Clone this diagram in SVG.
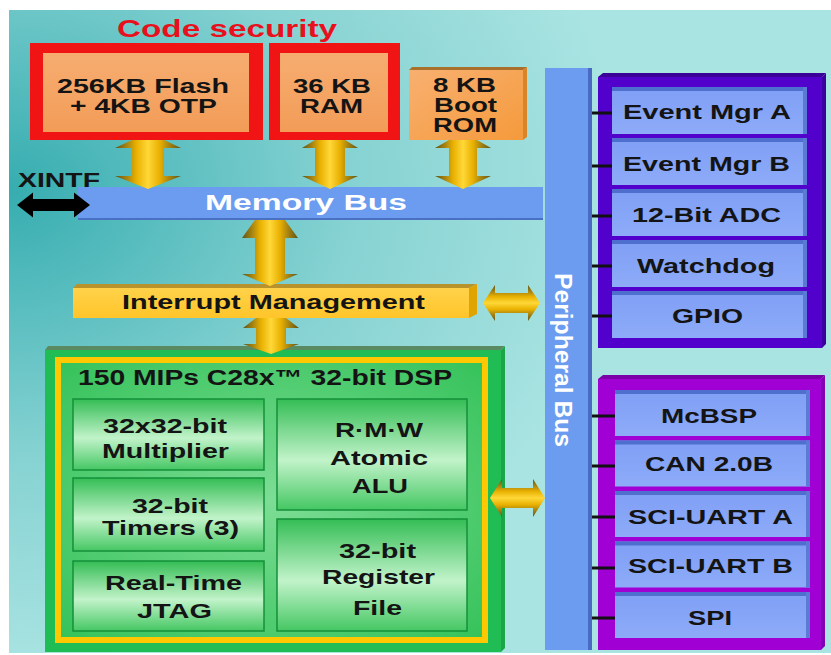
<svg xmlns="http://www.w3.org/2000/svg" width="831" height="655" viewBox="0 0 831 655">
<defs>
<radialGradient id="bg" cx="0" cy="0.28" r="0.75">
<stop offset="0" stop-color="#36adb0"/>
<stop offset="0.55" stop-color="#86d2d2"/>
<stop offset="1" stop-color="#a9e4e2"/>
</radialGradient>
<linearGradient id="orange" x1="0" y1="0" x2="0" y2="1">
<stop offset="0" stop-color="#f6ad70"/>
<stop offset="1" stop-color="#f39c58"/>
</linearGradient>
<linearGradient id="boot" x1="0" y1="0" x2="1" y2="1">
<stop offset="0" stop-color="#f8b070"/>
<stop offset="1" stop-color="#f59a3c"/>
</linearGradient>
<linearGradient id="goldV" x1="0" y1="0" x2="1" y2="0">
<stop offset="0" stop-color="#5e5418"/>
<stop offset="0.2" stop-color="#b08a10"/>
<stop offset="0.32" stop-color="#e8b000"/>
<stop offset="0.5" stop-color="#ffd838"/>
<stop offset="0.68" stop-color="#e8b000"/>
<stop offset="0.8" stop-color="#b08a10"/>
<stop offset="1" stop-color="#5e5418"/>
</linearGradient>
<linearGradient id="goldH" x1="0" y1="0" x2="0" y2="1">
<stop offset="0" stop-color="#5e5418"/>
<stop offset="0.2" stop-color="#b08a10"/>
<stop offset="0.32" stop-color="#e8b000"/>
<stop offset="0.5" stop-color="#ffd838"/>
<stop offset="0.68" stop-color="#e8b000"/>
<stop offset="0.8" stop-color="#b08a10"/>
<stop offset="1" stop-color="#5e5418"/>
</linearGradient>
<linearGradient id="intf" x1="0" y1="0" x2="0" y2="1">
<stop offset="0" stop-color="#ffd24a"/>
<stop offset="1" stop-color="#ffc52a"/>
</linearGradient>
<linearGradient id="sub" x1="0" y1="0" x2="0" y2="1">
<stop offset="0" stop-color="#34bd55"/>
<stop offset="0.55" stop-color="#c2f3ca"/>
<stop offset="1" stop-color="#45c763"/>
</linearGradient>
<radialGradient id="field" cx="0.5" cy="0.5" r="0.7">
<stop offset="0" stop-color="#7ddd95"/>
<stop offset="1" stop-color="#35c25a"/>
</radialGradient>
<linearGradient id="item" x1="0" y1="0" x2="0" y2="1">
<stop offset="0" stop-color="#7f9ff6"/>
<stop offset="1" stop-color="#8eabf8"/>
</linearGradient>
</defs>
<style>
text { font-family: "Liberation Sans", Arial, sans-serif; font-weight: bold; text-anchor: middle; fill: #141414; }
.t21 { font-size: 21px; }
.t20 { font-size: 20px; }
.wh { fill: #ffffff; }
.red { fill: #f01414; }
.sb { fill: url(#sub); stroke: #15903a; stroke-width: 1.5; }
.it { fill: url(#item); }
.itTop { fill: #4f6fcf; }
.itSide { fill: #5a7ad6; }
.av { fill: url(#goldV); }
.ah { fill: url(#goldH); }
.tick { stroke: #111; stroke-width: 3; }
</style>

<rect x="9" y="10" width="822" height="643" fill="url(#bg)"/>

<g id="code-security">
<text x="227" y="37" style="font-size:24px;fill:#e8101c" textLength="220" lengthAdjust="spacingAndGlyphs">Code security</text>
</g>

<g id="flash">
<rect class="red" x="30" y="43" width="233" height="97"/>
<rect x="43" y="53" width="206" height="79" fill="url(#orange)"/>
<text class="t20" x="143" y="93" textLength="172" lengthAdjust="spacingAndGlyphs">256KB Flash</text>
<text class="t20" x="143.5" y="113" textLength="147" lengthAdjust="spacingAndGlyphs">+ 4KB OTP</text>
</g>

<g id="ram">
<rect class="red" x="269" y="43" width="131" height="97"/>
<rect x="280" y="53" width="108" height="79" fill="url(#orange)"/>
<text class="t20" x="332" y="93" textLength="78" lengthAdjust="spacingAndGlyphs">36 KB</text>
<text class="t20" x="331.5" y="113" textLength="63" lengthAdjust="spacingAndGlyphs">RAM</text>
</g>

<g id="boot-rom">
<polygon points="409,70 412,67 527,67 523,70" fill="#a8702a"/>
<polygon points="523,70 527,67 527,137 523,140" fill="#d98426"/>
<rect x="409" y="70" width="114" height="70" fill="url(#boot)"/>
<text class="t20" x="464.5" y="92" textLength="63" lengthAdjust="spacingAndGlyphs">8 KB</text>
<text class="t20" x="465.5" y="112" textLength="63" lengthAdjust="spacingAndGlyphs">Boot</text>
<text class="t20" x="465" y="132" textLength="64" lengthAdjust="spacingAndGlyphs">ROM</text>
</g>

<g id="memory-bus">
<rect x="78" y="187" width="465" height="33" fill="#6b9cf0"/>
<rect x="78" y="218" width="465" height="2" fill="#4a70c4"/>
<text x="306" y="210" class="wh" style="font-size:22px" textLength="202" lengthAdjust="spacingAndGlyphs">Memory Bus</text>
</g>

<g id="xintf">
<text class="t21" x="59" y="187" textLength="82" lengthAdjust="spacingAndGlyphs">XINTF</text>
</g>

<g id="peripheral-bus">
<rect x="545" y="68" width="47" height="582" fill="#6b9cf0"/>
<rect x="588" y="68" width="4" height="582" fill="#4a6ac4"/>
<text class="wh" transform="translate(555,360) rotate(90)" style="font-size:24px" textLength="174" lengthAdjust="spacingAndGlyphs">Peripheral Bus</text>
</g>

<g id="interrupt-management">
<polygon points="73,288 77,284 477,284 469,288" fill="#b8922a"/>
<polygon points="469,288 477,284 477,314 469,318" fill="#e0a400"/>
<rect x="73" y="288" width="396" height="30" fill="url(#intf)"/>
<text class="t20" x="273.5" y="309" textLength="303" lengthAdjust="spacingAndGlyphs">Interrupt Management</text>
</g>

<g id="dsp">
<polygon points="45,350 48,346 505,346 501,350" fill="#5a8a62"/>
<rect x="45" y="350" width="456" height="302" fill="#20bd55"/>
<polygon points="501,350 505,346 505,648 501,652" fill="#19a548"/>
<rect x="58" y="360" width="427" height="280" fill="url(#field)" stroke="#ffc800" stroke-width="6"/>
<text x="265" y="385" style="font-size:22px" textLength="374" lengthAdjust="spacingAndGlyphs">150 MIPs C28x™ 32-bit DSP</text>
</g>

<g id="multiplier">
<rect class="sb" x="73" y="399" width="191" height="71"/>
<text class="t21" x="165" y="433" textLength="124" lengthAdjust="spacingAndGlyphs">32x32-bit</text>
<text class="t21" x="165.5" y="458" textLength="127" lengthAdjust="spacingAndGlyphs">Multiplier</text>
</g>
<g id="timers">
<rect class="sb" x="73" y="478" width="191" height="73"/>
<text class="t21" x="170" y="513" textLength="76" lengthAdjust="spacingAndGlyphs">32-bit</text>
<text class="t21" x="170.5" y="535" textLength="137" lengthAdjust="spacingAndGlyphs">Timers (3)</text>
</g>
<g id="jtag">
<rect class="sb" x="73" y="561" width="191" height="70"/>
<text class="t21" x="173.5" y="590" textLength="137" lengthAdjust="spacingAndGlyphs">Real-Time</text>
<text class="t21" x="174.5" y="618" textLength="75" lengthAdjust="spacingAndGlyphs">JTAG</text>
</g>
<g id="alu">
<rect class="sb" x="277" y="399" width="190" height="111"/>
<text class="t21" x="379" y="437" textLength="88" lengthAdjust="spacingAndGlyphs">R·M·W</text>
<text class="t21" x="379" y="465" textLength="98" lengthAdjust="spacingAndGlyphs">Atomic</text>
<text class="t21" x="380" y="493" textLength="56" lengthAdjust="spacingAndGlyphs">ALU</text>
</g>
<g id="register-file">
<rect class="sb" x="277" y="519" width="190" height="112"/>
<text class="t21" x="377.5" y="558" textLength="77" lengthAdjust="spacingAndGlyphs">32-bit</text>
<text class="t21" x="378.5" y="584" textLength="113" lengthAdjust="spacingAndGlyphs">Register</text>
<text class="t21" x="377.5" y="615" textLength="49" lengthAdjust="spacingAndGlyphs">File</text>
</g>

<g id="peripherals-a">
<polygon points="598,77 603,73 826,73 822,77" fill="#3a0098"/>
<rect x="598" y="77" width="224" height="271" fill="#5200cc"/>
<polygon points="822,77 826,73 826,344 822,348" fill="#3c00a0"/>
</g>
<g id="event-mgr-a">
<rect class="it" x="612" y="87" width="195" height="47"/>
<rect class="itTop" x="612" y="87" width="195" height="4"/>
<rect class="itSide" x="803" y="87" width="4" height="47"/>
<text class="t21" x="707" y="119" textLength="168" lengthAdjust="spacingAndGlyphs">Event Mgr A</text>
</g>
<g id="event-mgr-b">
<rect class="it" x="612" y="138" width="195" height="47"/>
<rect class="itTop" x="612" y="138" width="195" height="4"/>
<rect class="itSide" x="803" y="138" width="4" height="47"/>
<text class="t21" x="706.5" y="171" textLength="167" lengthAdjust="spacingAndGlyphs">Event Mgr B</text>
</g>
<g id="adc">
<rect class="it" x="612" y="189" width="195" height="47"/>
<rect class="itTop" x="612" y="189" width="195" height="4"/>
<rect class="itSide" x="803" y="189" width="4" height="47"/>
<text class="t21" x="706.5" y="222" textLength="149" lengthAdjust="spacingAndGlyphs">12-Bit ADC</text>
</g>
<g id="watchdog">
<rect class="it" x="612" y="240" width="195" height="47"/>
<rect class="itTop" x="612" y="240" width="195" height="4"/>
<rect class="itSide" x="803" y="240" width="4" height="47"/>
<text class="t21" x="706" y="273" textLength="138" lengthAdjust="spacingAndGlyphs">Watchdog</text>
</g>
<g id="gpio">
<rect class="it" x="612" y="291" width="195" height="47"/>
<rect class="itTop" x="612" y="291" width="195" height="4"/>
<rect class="itSide" x="803" y="291" width="4" height="47"/>
<text class="t21" x="707.5" y="323" textLength="71" lengthAdjust="spacingAndGlyphs">GPIO</text>
</g>

<g id="peripherals-b">
<polygon points="598,379 603,375 825,375 821,379" fill="#7a00a8"/>
<rect x="598" y="379" width="223" height="271" fill="#a000d4"/>
<polygon points="821,379 825,375 825,646 821,650" fill="#8400b4"/>
</g>
<g id="mcbsp">
<rect class="it" x="615" y="390" width="195" height="46"/>
<rect class="itTop" x="615" y="390" width="195" height="4"/>
<rect class="itSide" x="806" y="390" width="4" height="46"/>
<text class="t21" x="709" y="423" textLength="96" lengthAdjust="spacingAndGlyphs">McBSP</text>
</g>
<g id="can">
<rect class="it" x="615" y="440.5" width="195" height="46"/>
<rect class="itTop" x="615" y="440.5" width="195" height="4"/>
<rect class="itSide" x="806" y="440.5" width="4" height="46"/>
<text class="t21" x="709" y="471" textLength="128" lengthAdjust="spacingAndGlyphs">CAN 2.0B</text>
</g>
<g id="sci-uart-a">
<rect class="it" x="615" y="491" width="195" height="46"/>
<rect class="itTop" x="615" y="491" width="195" height="4"/>
<rect class="itSide" x="806" y="491" width="4" height="46"/>
<text class="t21" x="710.5" y="524" textLength="165" lengthAdjust="spacingAndGlyphs">SCI-UART A</text>
</g>
<g id="sci-uart-b">
<rect class="it" x="615" y="541.5" width="195" height="46"/>
<rect class="itTop" x="615" y="541.5" width="195" height="4"/>
<rect class="itSide" x="806" y="541.5" width="4" height="46"/>
<text class="t21" x="710.5" y="573" textLength="165" lengthAdjust="spacingAndGlyphs">SCI-UART B</text>
</g>
<g id="spi">
<rect class="it" x="615" y="592" width="195" height="46"/>
<rect class="itTop" x="615" y="592" width="195" height="4"/>
<rect class="itSide" x="806" y="592" width="4" height="46"/>
<text class="t21" x="710" y="625" textLength="44" lengthAdjust="spacingAndGlyphs">SPI</text>
</g>

<g id="connectors">
<polygon class="av" points="132,140 164,140 181,148 164,148 164,176 181,176 148,189 115,176 132,176 132,148 115,148"/>
<polygon class="av" points="315,140 345,140 358,148 345,148 345,176 358,176 330,189 302,176 315,176 315,148 302,148"/>
<polygon class="av" points="449,140 477,140 491,148 477,148 477,176 491,176 463,189 435,176 449,176 449,148 435,148"/>
<polygon class="av" points="255,220 285,220 298,238 285,238 285,274 298,274 270,286 242,274 255,274 255,238 242,238"/>
<polygon class="av" points="256,318 286,318 299,328 286,328 286,344 299,344 271,354 243,344 256,344 256,328 243,328"/>
<polygon class="ah" points="483,303 495,285 495,293 528,293 528,285 540,303 528,321 528,313 495,313 495,321"/>
<polygon class="ah" points="490,498 502,479 502,488 533,488 533,479 545,498 533,517 533,508 502,508 502,517"/>
<polygon fill="#000000" points="17,205 33,192.5 33,199 74,199 74,192.5 90,205 74,217.5 74,211 33,211 33,217.5"/>
<line class="tick" x1="592" y1="113" x2="612" y2="113"/>
<line class="tick" x1="592" y1="166" x2="612" y2="166"/>
<line class="tick" x1="592" y1="216" x2="612" y2="216"/>
<line class="tick" x1="592" y1="266" x2="612" y2="266"/>
<line class="tick" x1="592" y1="316" x2="612" y2="316"/>
<line class="tick" x1="592" y1="416" x2="615" y2="416"/>
<line class="tick" x1="592" y1="466" x2="615" y2="466"/>
<line class="tick" x1="592" y1="517" x2="615" y2="517"/>
<line class="tick" x1="592" y1="568" x2="615" y2="568"/>
<line class="tick" x1="592" y1="618" x2="615" y2="618"/>
</g>
</svg>
